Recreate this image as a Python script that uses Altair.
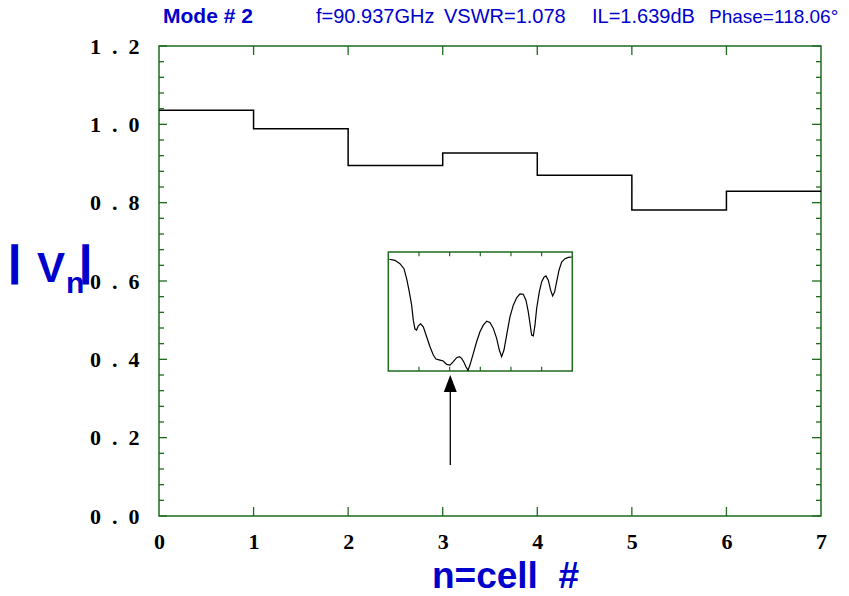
import altair as alt
import pandas as pd

# ---------------- data ----------------
cells = [0, 1, 2, 3, 4, 5, 6]
vn = [1.036, 0.989, 0.895, 0.927, 0.870, 0.781, 0.829]
x_ticks = [0, 1, 2, 3, 4, 5, 6, 7]
y_ticks = [0.0, 0.2, 0.4, 0.6, 0.8, 1.0, 1.2]
y_minor = [round(i * 0.04, 2) for i in range(31) if i % 5]

inset_x = [0.033, 0.217, 0.380, 0.511, 0.598, 0.685, 0.761, 0.815, 0.870, 0.924,
           0.978, 1.054, 1.141, 1.250, 1.359, 1.467, 1.554, 1.685, 1.793, 1.902,
           2.011, 2.120, 2.228, 2.315, 2.391, 2.467, 2.533, 2.598, 2.663, 2.772,
           2.880, 2.989, 3.098, 3.207, 3.315, 3.424, 3.533, 3.620, 3.696, 3.772,
           3.859, 3.967, 4.076, 4.185, 4.293, 4.402, 4.489, 4.565, 4.620, 4.674,
           4.728, 4.783, 4.837, 4.924, 5.000, 5.076, 5.141, 5.217, 5.293, 5.359,
           5.424, 5.489, 5.565, 5.652, 5.761, 5.870, 5.978]
inset_y = [0.939, 0.930, 0.902, 0.860, 0.777, 0.665, 0.553, 0.427, 0.352, 0.344,
           0.380, 0.397, 0.372, 0.288, 0.204, 0.134, 0.101, 0.092, 0.084, 0.056,
           0.050, 0.078, 0.112, 0.120, 0.106, 0.073, 0.036, 0.006, 0.050, 0.148,
           0.246, 0.330, 0.385, 0.419, 0.408, 0.358, 0.274, 0.176, 0.120, 0.176,
           0.302, 0.455, 0.553, 0.615, 0.648, 0.645, 0.595, 0.497, 0.399, 0.302,
           0.296, 0.385, 0.525, 0.665, 0.749, 0.788, 0.799, 0.763, 0.679, 0.631,
           0.665, 0.749, 0.846, 0.916, 0.944, 0.955, 0.958]
inset_ticks = [1, 2, 3, 4, 5]

arrow_x = [3.08]
arrow_base = [0.318]
arrow_tail = [0.13]
arrow_tip = [0.36]

title_mode = "Mode # 2"
info_parts = ["f=90.937GHz", "VSWR=1.078", "IL=1.639dB", "Phase=118.06\u00b0"]

# ---------------- style ----------------
W, H = 662, 470
GREEN = "#1e6b1e"
BLUE = "#0000cc"
NB = "\u00a0"

def xs():
    return alt.Scale(domain=[0, 7], nice=False, zero=False)

def ys():
    return alt.Scale(domain=[0, 1.2], nice=False, zero=False)

def ixs():
    return alt.Scale(domain=[0, 6], range=[229.3, 413.3], nice=False, zero=False)

def iys():
    return alt.Scale(domain=[0, 1], range=[325, 206], nice=False, zero=False)

xaxis = alt.Axis(values=x_ticks, format="d", tickSize=0, domain=False, grid=False,
                 labelFont="Liberation Serif", labelFontWeight="bold", labelFontSize=22,
                 labelColor="black", labelPadding=15, labelFlush=False,
                 title="n=cell" + NB + NB + "#", titleFont="Liberation Sans",
                 titleFontWeight="bold", titleFontSize=37, titleColor=BLUE,
                 titleX=346, titleY=71, titleBaseline="alphabetic", titleAlign="center")
yaxis = alt.Axis(values=y_ticks, tickSize=0, domain=False, grid=False,
                 labelExpr="replace(format(datum.value, '.1f'), '.', '" + NB + NB + "." + NB + NB + "')",
                 labelFont="Liberation Serif", labelFontWeight="bold", labelFontSize=22,
                 labelColor="black", labelPadding=20, labelFlush=False, title="")

step_df = pd.DataFrame({"n": cells + [7], "v": vn + [vn[-1]]})
step = alt.Chart(step_df).mark_line(interpolate="step-after", color="black", strokeWidth=1.5).encode(
    x=alt.X("n:Q", scale=xs(), axis=xaxis),
    y=alt.Y("v:Q", scale=ys(), axis=yaxis),
)

ymaj_df = pd.DataFrame({"t": y_ticks})
ymin_df = pd.DataFrame({"t": y_minor})
xmaj_df = pd.DataFrame({"t": x_ticks[1:-1]})

def yrule(df, x0, x1):
    return alt.Chart(df).mark_rule(color=GREEN, strokeWidth=1.3).encode(
        y=alt.Y("t:Q", scale=ys(), axis=None), x=alt.value(x0), x2=alt.value(x1))

def xrule(df, y0, y1):
    return alt.Chart(df).mark_rule(color=GREEN, strokeWidth=1.3).encode(
        x=alt.X("t:Q", scale=xs(), axis=None), y=alt.value(y0), y2=alt.value(y1))

ticks = [
    yrule(ymaj_df, 0, 8), yrule(ymin_df, 0, 5),
    yrule(ymaj_df, W, W - 9), yrule(ymin_df, W, W - 5),
    xrule(xmaj_df, H, H - 9), xrule(xmaj_df, 0, 9),
]

arrow_df = pd.DataFrame({"x": arrow_x, "b": arrow_base, "e": arrow_tail, "t": arrow_tip})
arrow_line = alt.Chart(arrow_df).mark_rule(color="black", strokeWidth=1.3).encode(
    x=alt.X("x:Q", scale=xs(), axis=None),
    y=alt.Y("b:Q", scale=ys(), axis=None),
    y2="e:Q",
)
arrow_head = alt.Chart(arrow_df).mark_point(
    shape="M0,0L0.765,2L-0.765,2Z", size=289, filled=True, color="black", opacity=1
).encode(
    x=alt.X("x:Q", scale=xs(), axis=None),
    y=alt.Y("t:Q", scale=ys(), axis=None),
)

one = pd.DataFrame({"k": [0]})

def txt(s, x, y, size, weight="normal", font="Liberation Sans", color=BLUE, sw=0):
    kw = dict(text=s, align="left", baseline="alphabetic", font=font, fontSize=size,
              fontWeight=weight, color=color)
    if sw:
        kw.update(stroke=color, strokeWidth=sw)
    return alt.Chart(one).mark_text(**kw).encode(x=alt.value(x), y=alt.value(y))

texts = [
    txt(title_mode, 4, -23, 21, "bold"),
    txt(info_parts[0], 157, -23, 20),
    txt(info_parts[1], 285, -23, 20),
    txt(info_parts[2], 433, -23, 20),
    txt(info_parts[3], 550, -23, 19),
    txt("|", -150, 229, 40, "bold", sw=1.6),
    txt("V", -122, 236, 42, "bold"),
    txt("n", -93, 247, 30, "bold"),
    txt("|", -79, 229, 40, "bold", sw=1.6),
]

# ---------------- inset ----------------
box_df = pd.DataFrame({"x0": [0], "x1": [6], "y0": [0], "y1": [1]})
box = alt.Chart(box_df).mark_rect(fill="white", stroke=GREEN, strokeWidth=1.5).encode(
    x=alt.X("x0:Q", scale=ixs(), axis=None), x2="x1:Q",
    y=alt.Y("y0:Q", scale=iys(), axis=None), y2="y1:Q",
)
it_df = pd.DataFrame({"t": inset_ticks, "b0": [0] * 5, "b1": [0.035] * 5,
                      "t0": [1] * 5, "t1": [0.965] * 5})
it_bot = alt.Chart(it_df).mark_rule(color=GREEN, strokeWidth=1.2).encode(
    x=alt.X("t:Q", scale=ixs(), axis=None), y=alt.Y("b0:Q", scale=iys(), axis=None), y2="b1:Q")
it_top = alt.Chart(it_df).mark_rule(color=GREEN, strokeWidth=1.2).encode(
    x=alt.X("t:Q", scale=ixs(), axis=None), y=alt.Y("t0:Q", scale=iys(), axis=None), y2="t1:Q")
curve = alt.Chart(pd.DataFrame({"x": inset_x, "y": inset_y})).mark_line(
    color="black", strokeWidth=1.2).encode(
    x=alt.X("x:Q", scale=ixs(), axis=None), y=alt.Y("y:Q", scale=iys(), axis=None))

chart = alt.layer(
    step, *ticks, arrow_line, arrow_head, box, it_bot, it_top, curve, *texts
).resolve_scale(x="independent", y="independent").properties(
    width=W, height=H, autosize="none",
    padding={"left": 151, "top": 38, "right": 20, "bottom": 72},
    background="white",
).configure_view(stroke=GREEN, strokeWidth=1.5)

chart.save("out.html", embed_options={"renderer": "svg", "actions": False})
